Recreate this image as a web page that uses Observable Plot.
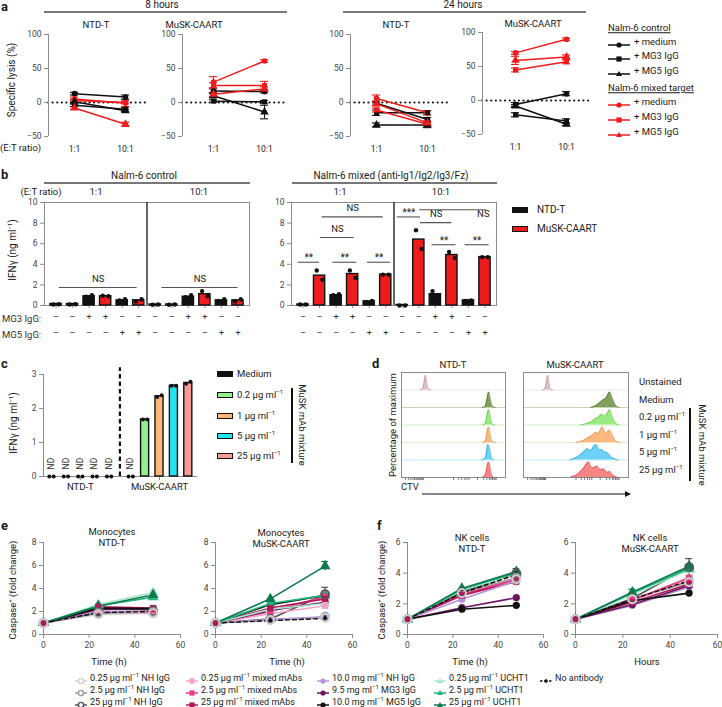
<!DOCTYPE html>
<html><head><meta charset="utf-8">
<script src="https://cdn.jsdelivr.net/npm/d3@7"></script>
<script src="https://cdn.jsdelivr.net/npm/@observablehq/plot@0.6"></script>
<style>
body{margin:0;background:#fff;}
#root{position:relative;width:722px;height:707px;overflow:hidden;font-family:Roboto,"Noto Sans",Arial,sans-serif;color:#1a1a1a;}
.t{position:absolute;white-space:nowrap;font-size:9.5px;line-height:1;}
.t sup{font-size:6px;vertical-align:4px;line-height:0;}
.lab{font-weight:bold;font-size:13px;}
</style></head><body><div id="root"></div>
<script>
// ================= DATA =================
// Panel a: specific lysis (%), values at [1:1, 10:1]; series order:
// control +medium, control +MG3, control +MG5, mixed +medium, mixed +MG3, mixed +MG5
const etRatios = ["1:1", "10:1"];
const lysisLabels = ["+ medium", "+ MG3 IgG", "+ MG5 IgG"];
const lysisSymbols = ["circle", "square", "triangle"];
const lysis8hNTD = [[13, 8], [-4, -10], [1, -12], [5, -1], [3, 0], [-8, -32]];
const lysis8hCAART = [[17, 16], [2, 1], [10, -14], [30, 61], [25, 25], [12, 20]];
const lysis24hNTD = [[-1, -25], [-15, -15], [-33, -33], [6, -15], [-11, -32], [-2, -30]];
const lysis24hCAART = [[-6, 10], [-21, -30], [-8, -35], [70, 90], [45, 57], [59, 64]];
const lysisErr8hNTD = [[2, 3], [2, 3], [3, 2], [3, 5], [2, 2], [2, 3]];
const lysisErr8hCAART = [[3, 2], [2, 2], [3, 10], [8, 2], [4, 6], [3, 3]];
const lysisErr24hNTD = [[3, 3], [4, 3], [3, 4], [5, 3], [3, 3], [3, 3]];
const lysisErr24hCAART = [[3, 3], [3, 3], [2, 2], [2, 2], [3, 3], [6, 3]];

// Panel b: IFNγ (ng/ml); bars alternate NTD-T, MuSK-CAART
const ifnCtrl = [0.15, 0.15, 0.9, 0.9, 0.5, 0.5, 0.1, 0.1, 0.85, 1.1, 0.5, 0.5];
const ifnCtrlDots = [[0.1, 0.12], [0.1, 0.12], [0.85, 1.0], [0.95, 0.9], [0.5, 0.6], [0.4, 0.6], [0.08, 0.1], [0.08, 0.1], [0.8, 1.0], [1.4, 0.9], [0.45, 0.6], [0.4, 0.6]];
const ifnMix = [0.1, 2.9, 1.0, 3.05, 0.4, 3.0, 0.05, 6.4, 1.1, 4.9, 0.5, 4.7];
const ifnMixDots = [[0.1, 0.1], [3.4, 2.5], [1.0, 1.1], [3.4, 2.7], [0.35, 0.45], [3.0, 3.0], [0.0, 0.0], [7.3, 5.5], [1.4, 0.85], [5.2, 4.6], [0.45, 0.5], [4.7, 4.7]];
const mg3Signs = ["–", "–", "+", "+", "–", "–", "–", "–", "+", "+", "–", "–"];
const mg5Signs = ["–", "–", "–", "–", "+", "+", "–", "–", "–", "–", "+", "+"];
const ctrlBrackets = [
  {x1: 0.2, x2: 4.9, y: 1.75, label: "NS"},
  {x1: 6.4, x2: 11.0, y: 1.75, label: "NS"}];
const mixBrackets = [
  {x1: -0.3, x2: 1.0, y: 4.2, label: "**"},
  {x1: 1.8, x2: 3.25, y: 4.2, label: "**"},
  {x1: 3.9, x2: 5.3, y: 4.2, label: "**"},
  {x1: 1.05, x2: 3.1, y: 6.6, label: "NS"},
  {x1: 1.15, x2: 4.85, y: 8.6, label: "NS"},
  {x1: 5.7, x2: 7.1, y: 8.6, label: "***"},
  {x1: 7.05, x2: 11.1, y: 9.3, label: ""},
  {x1: 7.1, x2: 9.0, y: 8.05, label: "NS"},
  {x1: 10.9, x2: 10.9, y: 8.05, label: "NS"},
  {x1: 7.8, x2: 9.25, y: 5.9, label: "**"},
  {x1: 9.8, x2: 11.25, y: 5.9, label: "**"}];

// Panel c: IFNγ with MuSK mAb mixture
const mabLabels = ["Medium", "0.2 μg ml<sup>−1</sup>", "1 μg ml<sup>−1</sup>", "5 μg ml<sup>−1</sup>", "25 μg ml<sup>−1</sup>"];
const mabColors = ["#111111", "#8ff08c", "#ffb874", "#22e4f0", "#f79a98"];
const effectorGroups = ["NTD-T", "MuSK-CAART"];
const ifnMabNTD = [null, null, null, null, null];          // ND
const ifnMabNTDDots = [[0, 0], [0, 0], [0, 0], [0, 0], [0, 0]];
const ifnMabCAART = [null, 1.68, 2.36, 2.67, 2.75];       // medium ND
const ifnMabCAARTDots = [[0, 0], [1.68, 1.68], [2.34, 2.39], [2.67, 2.67], [2.73, 2.79]];

// Panel d: CTV histograms, [CTV position, fraction of max]
const ctvRows = ["Unstained", "Medium", "0.2 μg ml<sup>−1</sup>", "1 μg ml<sup>−1</sup>", "5 μg ml<sup>−1</sup>", "25 μg ml<sup>−1</sup>"];
const ctvFill = ["#dcb3b8", "#6f8f42", "#8ae86c", "#f7ae6c", "#52c9f3", "#f47070"];
const ctvStroke = ["#b98a90", "#4e6b28", "#5ccc3c", "#ec8d3e", "#20aae0", "#e84848"];
const ctvTicks = [4, 7, 9, 11, 12.5, 14, 15, 16, 17, 18, 19, 20, 21, 50, 55, 58, 61, 63, 65, 73, 79, 82, 84.5, 86, 87.5, 89, 90, 91];
const ctvNTD = [
  [[18, 0], [20, 0.05], [21, 0.2], [22, 0.55], [23, 0.85], [24, 0.5], [25, 0.15], [26, 0.03], [28, 0]],
  [[78, 0], [80, 0.04], [81, 0.15], [82, 0.42], [83, 0.75], [84, 0.88], [85, 0.62], [86, 0.3], [87, 0.1], [88, 0.03], [90, 0]],
  [[78, 0], [80, 0.05], [81, 0.2], [82, 0.5], [83, 0.8], [84, 0.88], [85, 0.6], [86, 0.28], [87, 0.09], [88, 0.02], [90, 0]],
  [[78, 0], [80, 0.05], [81, 0.18], [82, 0.5], [83, 0.82], [84, 0.88], [85, 0.55], [86, 0.25], [87, 0.08], [88, 0.02], [90, 0]],
  [[77, 0], [79, 0.04], [81, 0.2], [82, 0.55], [83, 0.88], [84, 0.8], [85, 0.55], [86, 0.25], [87, 0.08], [89, 0]],
  [[77, 0], [79, 0.05], [81, 0.22], [82, 0.55], [83, 0.82], [84, 0.88], [85, 0.6], [86, 0.3], [87, 0.1], [89, 0]]];
const ctvCAART = [
  [[18, 0], [20, 0.05], [21, 0.2], [22, 0.55], [23, 0.85], [24, 0.5], [25, 0.15], [26, 0.03], [28, 0]],
  [[64, 0], [68, 0.08], [71, 0.2], [74, 0.35], [76, 0.45], [78, 0.5], [80, 0.7], [82, 0.88], [84, 0.6], [86, 0.3], [88, 0.1], [91, 0]],
  [[54, 0], [58, 0.05], [62, 0.12], [66, 0.25], [69, 0.4], [71, 0.42], [74, 0.62], [76, 0.55], [78, 0.5], [80, 0.7], [82, 0.88], [84, 0.55], [86, 0.25], [88, 0.08], [91, 0]],
  [[50, 0], [54, 0.05], [58, 0.15], [62, 0.3], [65, 0.4], [67, 0.5], [69, 0.58], [71, 0.5], [73, 0.7], [75, 0.88], [77, 0.65], [79, 0.55], [81, 0.7], [83, 0.65], [85, 0.35], [87, 0.15], [90, 0.03], [92, 0]],
  [[44, 0], [48, 0.08], [52, 0.2], [55, 0.35], [58, 0.5], [61, 0.65], [63, 0.55], [65, 0.6], [67, 0.8], [69, 0.88], [71, 0.7], [73, 0.55], [75, 0.6], [77, 0.45], [79, 0.45], [81, 0.35], [83, 0.2], [86, 0.08], [90, 0]],
  [[44, 0], [48, 0.08], [52, 0.22], [55, 0.4], [58, 0.6], [60, 0.8], [62, 0.88], [64, 0.65], [66, 0.55], [68, 0.6], [70, 0.65], [72, 0.5], [74, 0.45], [76, 0.5], [78, 0.4], [80, 0.3], [82, 0.35], [84, 0.2], [86, 0.1], [88, 0.04], [91, 0]]];

// Panels e, f: caspase+ fold change at 0, 24, 48 h
const hours = [0, 24, 48];
const caspaseSeries = [
  "0.25 μg ml<sup>−1</sup> NH IgG", "2.5 μg ml<sup>−1</sup> NH IgG", "25 μg ml<sup>−1</sup> NH IgG",
  "0.25 μg ml<sup>−1</sup> mixed mAbs", "2.5 μg ml<sup>−1</sup> mixed mAbs", "25 μg ml<sup>−1</sup> mixed mAbs",
  "10.0 mg ml<sup>−1</sup> NH IgG", "9.5 mg ml<sup>−1</sup> MG3 IgG", "10.0 mg ml<sup>−1</sup> MG5 IgG",
  "0.25 μg ml<sup>−1</sup> UCHT1", "2.5 μg ml<sup>−1</sup> UCHT1", "25 μg ml<sup>−1</sup> UCHT1",
  "No antibody"];
const caspaseColors = ["#cfcfcf", "#9a9a9a", "#555555", "#f7a1c4", "#ee3a8a", "#b3175a", "#b792d8", "#6b1560", "#111111", "#a6e8cc", "#1fb87a", "#0c7a4f", "#111111"];
const caspaseSymbols = ["circleOpen", "circleOpen", "circleOpen", "square", "square", "square", "circle", "circle", "circle", "triangle", "triangle", "triangle", "diamond"];
const monoNTD = [[1, 1.75, 1.85], [1, 1.85, 1.95], [1, 1.95, 2.05], [1, 2.1, 1.8], [1, 2.3, 2.15], [1, 2.4, 2.3], [1, 2.0, 2.0], [1, 2.2, 2.2], [1, 2.3, 2.25], [1, 2.6, 3.65], [1, 2.5, 3.25], [1, 2.45, 3.45], [1, 1.9, 2.0]];
const monoCAART = [[1, 1.25, 1.45], [1, 1.3, 1.55], [1, 1.35, 3.5], [1, 1.8, 2.5], [1, 2.0, 3.3], [1, 2.3, 3.1], [1, 1.3, 1.5], [1, 2.1, 2.8], [1, 2.6, 3.4], [1, 2.2, 2.7], [1, 2.7, 3.4], [1, 3.1, 5.95], [1, 1.2, 1.4]];
const nkNTD = [[1, 2.7, 3.6], [1, 2.7, 3.7], [1, 2.75, 4.0], [1, 2.6, 3.5], [1, 2.6, 3.6], [1, 2.55, 3.45], [1, 2.3, 3.5], [1, 1.75, 2.4], [1, 1.65, 1.9], [1, 2.9, 3.9], [1, 2.95, 4.05], [1, 3.0, 4.1], [1, 2.7, 3.9]];
const nkCAART = [[1, 2.3, 3.4], [1, 2.3, 3.45], [1, 2.35, 4.4], [1, 2.2, 3.6], [1, 2.25, 3.7], [1, 2.1, 3.3], [1, 1.9, 3.1], [1, 1.95, 3.2], [1, 2.2, 2.7], [1, 2.6, 4.2], [1, 2.7, 4.3], [1, 2.75, 4.45], [1, 2.3, 3.5]];
// [series, time index, sd]
const monoNTDErr = [[9, 2, 0.2], [2, 1, 0.15], [2, 2, 0.15]];
const monoCAARTErr = [[11, 2, 0.4], [2, 2, 0.6], [2, 1, 0.15]];
const nkNTDErr = [[0, 1, 0.35], [0, 2, 0.5], [2, 2, 0.3]];
const nkCAARTErr = [[2, 2, 0.55], [0, 2, 0.3], [11, 1, 0.2]];

// ================= HELPERS =================
const root = document.getElementById("root");
const FONT = 'Roboto, "Noto Sans", Arial, sans-serif';
const AXIS = "#8c8c8c", TICKTXT = "#444", RED = "#ee1c1c", BLACK = "#111111";
const intFmt = (d) => String(d).replace("-", "−");

function txt(s, x, y, o = {}) {
  const d = document.createElement("div");
  d.className = "t" + (o.cls ? " " + o.cls : "");
  d.innerHTML = s;
  const ax = o.anchor === "start" ? "0%" : o.anchor === "end" ? "-100%" : "-50%";
  d.style.left = x + "px"; d.style.top = y + "px";
  d.style.transform = `translate(${ax},-50%)` + (o.rotate ? ` rotate(${o.rotate}deg)` : "");
  if (o.size) d.style.fontSize = o.size + "px";
  if (o.color) d.style.color = o.color;
  if (o.underline) d.style.textDecoration = "underline";
  root.appendChild(d);
  return d;
}
function hline(x1, x2, y, color = "#777", w = 1.3) {
  const d = document.createElement("div");
  Object.assign(d.style, {position: "absolute", left: x1 + "px", top: (y - w / 2) + "px", width: (x2 - x1) + "px", height: w + "px", background: color});
  root.appendChild(d);
}
function vline(x, y1, y2, color = "#111", w = 1.3) {
  const d = document.createElement("div");
  Object.assign(d.style, {position: "absolute", left: (x - w / 2) + "px", top: y1 + "px", width: w + "px", height: (y2 - y1) + "px", background: color});
  root.appendChild(d);
}
function place(node, left, top) {
  node.style.position = "absolute"; node.style.left = left + "px"; node.style.top = top + "px";
  root.appendChild(node); return node;
}
function framed(f, m, opts) {
  const [ml, mt, mr, mb] = m;
  const svg = Plot.plot({
    width: f.R - f.L + ml + mr, height: f.B - f.T + mt + mb,
    marginLeft: ml, marginTop: mt, marginRight: mr, marginBottom: mb,
    style: {fontFamily: FONT, fontSize: "8.5px", background: "transparent", overflow: "visible", color: "#222"},
    ...opts
  });
  return place(svg, f.L - ml, f.T - mt);
}
function symSvg(sym, cx, cy, r, color) {
  if (sym === "circle") return `<circle cx="${cx}" cy="${cy}" r="${r}" fill="${color}"/>`;
  if (sym === "circleOpen") return `<circle cx="${cx}" cy="${cy}" r="${r}" fill="white" stroke="${color}" stroke-width="1.4"/>`;
  if (sym === "square") return `<rect x="${cx - r}" y="${cy - r}" width="${2 * r}" height="${2 * r}" fill="${color}"/>`;
  if (sym === "triangle") return `<path d="M${cx},${cy - r * 1.2}L${cx + r * 1.15},${cy + r * 0.8}L${cx - r * 1.15},${cy + r * 0.8}Z" fill="${color}"/>`;
  return `<path d="M${cx},${cy - r}L${cx + r},${cy}L${cx},${cy + r}L${cx - r},${cy}Z" fill="${color}"/>`;
}
function legendMarker(x, y, w, color, sym, r, dash) {
  const d = document.createElement("div");
  d.innerHTML = `<svg width="${w}" height="12" style="overflow:visible"><line x1="0" y1="6" x2="${w}" y2="6" stroke="${color}" stroke-width="1.5" ${dash ? 'stroke-dasharray="2.5 2"' : ""}/>${symSvg(sym, w / 2, 6, r, color)}</svg>`;
  place(d, x, y - 6);
}
function legendRect(x, y, w, h, fill) {
  const d = document.createElement("div");
  Object.assign(d.style, {width: (w - 3) + "px", height: (h - 3) + "px", background: fill, border: "1.5px solid #111"});
  place(d, x, y - h / 2);
}

// ================= PANEL a =================
function lysisPanel(vals, errs, L, R, T, B, p11, p101) {
  const k = p101 - p11, x0 = (L - p11) / k, x1 = (R - p11) / k;
  const rows = [];
  vals.forEach((v, s) => v.forEach((y, j) => rows.push({s, j, y, e: errs[s][j], c: s < 3 ? BLACK : RED})));
  const cw = 0.08;
  framed({L, R, T, B}, [30, 4, 4, 22], {
    x: {domain: [x0, x1], axis: null},
    y: {domain: [-50, 100], axis: null},
    marks: [
      Plot.ruleY([0], {stroke: "#111", strokeWidth: 2.2, strokeDasharray: "0.01 4.6", strokeLinecap: "round"}),
      Plot.ruleX([x0], {y1: -50, y2: 100, stroke: AXIS}),
      Plot.axisY({ticks: [-50, 0, 50, 100], tickFormat: intFmt, tickSize: 4, tickPadding: 3, stroke: AXIS, fill: TICKTXT, label: null}),
      Plot.axisX({ticks: [0, 1], tickFormat: (d) => etRatios[d], tickSize: 0, tickPadding: 9, fill: "#222", label: null}),
      Plot.ruleX(rows, {x: "j", y1: (d) => d.y - d.e, y2: (d) => d.y + d.e, stroke: "c", strokeWidth: 1.1}),
      Plot.ruleY(rows, {x1: (d) => d.j - cw, x2: (d) => d.j + cw, y: (d) => d.y + d.e, stroke: "c", strokeWidth: 1.1}),
      Plot.ruleY(rows, {x1: (d) => d.j - cw, x2: (d) => d.j + cw, y: (d) => d.y - d.e, stroke: "c", strokeWidth: 1.1}),
      Plot.line(rows, {x: "j", y: "y", z: "s", stroke: "c", strokeWidth: 1.5}),
      ...lysisSymbols.map((sym, m) => Plot.dot(rows.filter((d) => d.s % 3 === m), {x: "j", y: "y", symbol: sym, fill: "c", r: sym === "triangle" ? 3.2 : 2.8}))
    ]
  });
}
txt("a", 1, 6, {cls: "lab", anchor: "start"});
txt("8 hours", 162, 5, {size: 10});
hline(44, 287, 12, "#777", 1.4);
txt("24 hours", 463, 5, {size: 10});
hline(343, 586, 12, "#777", 1.4);
txt("NTD-T", 96, 25); txt("MuSK-CAART", 194, 25); txt("NTD-T", 396, 25); txt("MuSK-CAART", 533, 24);
txt("Specific lysis (%)", 12, 80, {rotate: -90, size: 10});
txt("(E:T ratio)", 0, 148, {anchor: "start"});
lysisPanel(lysis8hNTD, lysisErr8hNTD, 48, 147, 34, 136, 74, 125);
lysisPanel(lysis8hCAART, lysisErr8hCAART, 182, 287, 34, 136, 213, 264);
lysisPanel(lysis24hNTD, lysisErr24hNTD, 350, 450, 34, 136, 376, 427);
lysisPanel(lysis24hCAART, lysisErr24hCAART, 482, 590, 32, 134, 515, 566);
// legend a
txt("Nalm-6 control", 608, 28, {anchor: "start", underline: true});
txt("Nalm-6 mixed target", 608, 88, {anchor: "start", underline: true});
[42, 56, 71].forEach((y, m) => { legendMarker(608, y, 22, BLACK, lysisSymbols[m], 2.6); txt(lysisLabels[m], 634, y, {anchor: "start"}); });
[102, 117, 132].forEach((y, m) => { legendMarker(608, y, 22, RED, lysisSymbols[m], 2.6); txt(lysisLabels[m], 634, y, {anchor: "start"}); });

// ================= PANEL b =================
function ifnPanel(vals, dots, brackets, L) {
  const R = L + 205, T = 202, B = 305, step = 16.5, off = 11.5;
  const x0 = -off / step, x1 = 11 + off / step;
  const bars = vals.map((v, i) => ({i, v, c: i % 2 ? RED : BLACK}));
  const pts = [];
  dots.forEach((p, i) => p.forEach((v, k) => pts.push({i, v, k})));
  const lines = brackets.filter((b) => b.x2 > b.x1);
  framed({L, R, T, B}, [30, 4, 4, 40], {
    x: {domain: [x0, x1], axis: null},
    y: {domain: [0, 10], axis: null},
    marks: [
      Plot.frame({stroke: AXIS}),
      Plot.axisY({ticks: [0, 2, 4, 6, 8, 10], tickFormat: intFmt, tickSize: 4, tickPadding: 3, stroke: AXIS, fill: TICKTXT, label: null}),
      Plot.axisX({ticks: d3.range(12), tickSize: 3, tickFormat: () => "", stroke: AXIS, label: null}),
      Plot.ruleX([5.5], {stroke: "#111", strokeWidth: 1.3}),
      Plot.rectY(bars, {x1: (d) => d.i - 0.34, x2: (d) => d.i + 0.34, y: "v", fill: "c", stroke: "#111", strokeWidth: 1.4}),
      Plot.dot(pts, {x: (d) => d.i + (d.k ? 0.17 : -0.17), y: "v", r: 2.2, fill: "#111"}),
      Plot.ruleY(lines, {x1: "x1", x2: "x2", y: "y", stroke: "#555", strokeWidth: 1.1}),
      Plot.text(brackets.filter((b) => b.label === "NS"), {x: (d) => (d.x1 + d.x2) / 2, y: "y", text: "label", dy: -9, fontSize: 9.5, fill: "#222"}),
      Plot.text(brackets.filter((b) => b.label.startsWith("*")), {x: (d) => (d.x1 + d.x2) / 2, y: "y", text: "label", dy: -4, fontSize: 10, fill: "#222"}),
      Plot.text(mg3Signs, {x: (d, i) => i, frameAnchor: "bottom", dy: 14, text: (d) => d, fontSize: 9, fill: "#333"}),
      Plot.text(mg5Signs, {x: (d, i) => i, frameAnchor: "bottom", dy: 30, text: (d) => d, fontSize: 9, fill: "#333"})
    ]
  });
}
txt("b", 1, 174, {cls: "lab", anchor: "start"});
txt("Nalm-6 control", 144, 176, {size: 10});
hline(44, 250, 183, "#777", 1.4);
txt("Nalm-6 mixed (anti-Ig1/Ig2/Ig3/Fz)", 391, 176, {size: 10});
hline(292, 497, 183, "#777", 1.4);
txt("(E:T ratio)", 41, 192); txt("1:1", 96, 192); txt("10:1", 199, 192);
txt("1:1", 340, 192); txt("10:1", 441, 192);
txt("IFNγ (ng ml<sup>−1</sup>)", 13, 250, {rotate: -90, size: 10});
txt("MG3 IgG:", 2, 319, {anchor: "start", color: "#333"});
txt("MG5 IgG:", 2, 335, {anchor: "start", color: "#333"});
ifnPanel(ifnCtrl, ifnCtrlDots, ctrlBrackets, 44);
ifnPanel(ifnMix, ifnMixDots, mixBrackets, 291);
legendRect(512, 210, 17, 7, BLACK); txt("NTD-T", 537, 210, {anchor: "start", size: 10});
legendRect(512, 229, 17, 7, RED); txt("MuSK-CAART", 537, 229, {anchor: "start", size: 10});

// ================= PANEL c =================
(function () {
  const L = 43, R = 197, T = 374, B = 476, u0 = 51, du = 14.4;
  const x0 = (L - u0) / du, x1 = (R - u0) / du;
  const bars = [], pts = [], nd = [];
  ifnMabNTD.forEach((v, k) => { if (v === null) nd.push({u: k}); });
  ifnMabCAART.forEach((v, k) => { if (v === null) nd.push({u: 5.5 + k}); else bars.push({u: 5.5 + k, v, c: mabColors[k]}); });
  ifnMabNTDDots.forEach((p, k) => p.forEach((v, j) => pts.push({u: k + (j ? 0.15 : -0.15), v})));
  ifnMabCAARTDots.forEach((p, k) => p.forEach((v, j) => pts.push({u: 5.5 + k + (j ? 0.15 : -0.15), v})));
  framed({L, R, T, B}, [30, 10, 4, 22], {
    x: {domain: [x0, x1], axis: null},
    y: {domain: [0, 3], axis: null},
    marks: [
      Plot.ruleX([x0], {y1: 0, y2: 3, stroke: AXIS}),
      Plot.ruleY([0], {stroke: AXIS}),
      Plot.axisY({ticks: [0, 1, 2, 3], tickFormat: intFmt, tickSize: 4, tickPadding: 3, stroke: AXIS, fill: TICKTXT, label: null}),
      Plot.axisX({ticks: [2, 7.5], tickFormat: (d) => effectorGroups[d < 5 ? 0 : 1], tickSize: 4, tickPadding: 3, stroke: AXIS, fill: "#222", fontSize: 9.5, label: null}),
      Plot.ruleX([4.75], {y1: 0, y2: 3.2, stroke: "#111", strokeWidth: 2.2, strokeDasharray: "4.5 3"}),
      Plot.rectY(bars, {x1: (d) => d.u - 0.28, x2: (d) => d.u + 0.28, y: "v", fill: "c", stroke: "#111", strokeWidth: 1.4}),
      Plot.dot(pts, {x: "u", y: "v", r: 2, fill: "#111"}),
      Plot.text(nd, {x: "u", y: 0.38, text: () => "ND", rotate: -90, fontSize: 8.5, fill: "#222"})
    ]
  });
})();
txt("c", 1, 363, {cls: "lab", anchor: "start"});
txt("IFNγ (ng ml<sup>−1</sup>)", 14, 423, {rotate: -90, size: 10});
[374, 395, 416, 436, 456].forEach((y, k) => { legendRect(217, y, 17, 7, mabColors[k]); txt(mabLabels[k], 237, y, {anchor: "start", size: 9.5}); });
vline(292, 388, 463, "#111", 1.4);
txt("MuSK mAb mixture", 302, 425, {rotate: 90, size: 9.5});

// ================= PANEL d =================
function ctvPanel(curves, L, R) {
  const rows = [];
  curves.forEach((pts, k) => pts.forEach(([x, h]) => rows.push({k, x, y1: 5 - k, y2: 5 - k + h})));
  framed({L, R, T: 372, B: 477}, [4, 4, 4, 8], {
    x: {domain: [0, 100], axis: null},
    y: {domain: [0, 6], axis: null},
    marks: [
      Plot.ruleY(d3.range(6), {y: (k) => 5 - k, stroke: (k) => ctvFill[k], strokeOpacity: 0.4}),
      Plot.areaY(rows, {x: "x", y1: "y1", y2: "y2", z: "k", fill: (d) => ctvFill[d.k], fillOpacity: 0.85, curve: "monotone-x"}),
      Plot.line(rows, {x: "x", y: "y2", z: "k", stroke: (d) => ctvStroke[d.k], strokeWidth: 0.7, curve: "monotone-x"}),
      Plot.frame({stroke: AXIS}),
      Plot.axisX({ticks: ctvTicks, tickSize: 3, tickFormat: () => "", stroke: "#777", label: null})
    ]
  });
}
txt("d", 372, 363, {cls: "lab", anchor: "start"});
txt("NTD-T", 453, 365); txt("MuSK-CAART", 575, 365);
ctvPanel(ctvNTD, 401, 505);
ctvPanel(ctvCAART, 523, 628);
[382, 400, 417, 435, 452, 470].forEach((y, k) => txt(ctvRows[k], 639, y, {anchor: "start", size: 9.5}));
vline(690, 408, 481, "#111", 1.4);
txt("MuSK mAb mixture", 702, 445, {rotate: 90, size: 9.5});
txt("Percentage of maximum", 393, 425, {rotate: -90, size: 9.5});
txt("CTV", 401, 487, {anchor: "start", size: 9.5});
(function () {
  const d = document.createElement("div");
  d.innerHTML = `<svg width="210" height="8"><line x1="0" y1="4" x2="203" y2="4" stroke="#111" stroke-width="1.2"/><path d="M203,1L209,4L203,7Z" fill="#111"/></svg>`;
  place(d, 422, 483);
})();

// ================= PANELS e, f =================
function caspasePanel(vals, errs, L, R, ymax, yticks) {
  const T = 542, B = 634;
  const rows = [];
  vals.forEach((v, s) => v.forEach((y, j) => rows.push({s, t: hours[j], y, c: caspaseColors[s]})));
  const er = errs.map(([s, j, e]) => ({t: hours[j], y: vals[s][j], e, c: caspaseColors[s]}));
  const of = (sym) => rows.filter((d) => caspaseSymbols[d.s] === sym);
  framed({L, R, T, B}, [30, 6, 10, 16], {
    x: {domain: [0, 60], axis: null},
    y: {domain: [0, ymax], axis: null},
    marks: [
      Plot.ruleX([0], {stroke: AXIS}),
      Plot.ruleY([0], {stroke: AXIS}),
      Plot.axisY({ticks: yticks, tickFormat: intFmt, tickSize: 4, tickPadding: 3, stroke: AXIS, fill: TICKTXT, label: null}),
      Plot.axisX({ticks: [0, 20, 40, 60], tickFormat: intFmt, tickSize: 4, tickPadding: 3, stroke: AXIS, fill: TICKTXT, label: null}),
      Plot.ruleX(er, {x: "t", y1: (d) => d.y - d.e, y2: (d) => d.y + d.e, stroke: "c", strokeWidth: 1.2}),
      Plot.ruleY(er, {x1: (d) => d.t - 1.5, x2: (d) => d.t + 1.5, y: (d) => d.y + d.e, stroke: "c", strokeWidth: 1.2}),
      Plot.line(rows.filter((d) => d.s < 12), {x: "t", y: "y", z: "s", stroke: "c", strokeWidth: 1.6}),
      Plot.line(rows.filter((d) => d.s === 12), {x: "t", y: "y", stroke: "#111", strokeWidth: 1.4, strokeDasharray: "4 3"}),
      Plot.dot(of("circle"), {x: "t", y: "y", r: 3.6, fill: "c"}),
      Plot.dot(of("triangle"), {x: "t", y: "y", r: 4, symbol: "triangle", fill: "c"}),
      Plot.dot(of("diamond"), {x: "t", y: "y", r: 2.4, symbol: "diamond", fill: "#111"}),
      Plot.dot(of("square"), {x: "t", y: "y", r: 3.6, symbol: "square", fill: "c"}),
      Plot.dot(of("circleOpen").reverse(), {x: "t", y: "y", r: 4, fill: "none", stroke: "c", strokeWidth: 1.8})
    ]
  });
}
txt("e", 1, 525, {cls: "lab", anchor: "start"});
txt("f", 377, 525, {cls: "lab", anchor: "start"});
caspasePanel(monoNTD, monoNTDErr, 43, 180, 8, [0, 2, 4, 6, 8]);
caspasePanel(monoCAART, monoCAARTErr, 215, 352, 8, [0, 2, 4, 6, 8]);
caspasePanel(nkNTD, nkNTDErr, 407, 543, 6, [0, 2, 4, 6]);
caspasePanel(nkCAART, nkCAARTErr, 575, 717, 6, [0, 2, 4, 6]);
txt("Monocytes", 112, 532); txt("NTD-T", 112, 543);
txt("Monocytes", 281, 533); txt("MuSK-CAART", 281, 544);
txt("NK cells", 472, 538); txt("NTD-T", 472, 549);
txt("NK cells", 650, 538); txt("MuSK-CAART", 650, 549);
txt("Caspase<sup>+</sup> (fold change)", 13, 590, {rotate: -90, size: 9.5});
txt("Caspase<sup>+</sup> (fold change)", 382, 590, {rotate: -90, size: 9.5});
txt("Time (h)", 109, 662); txt("Time (h)", 287, 662); txt("Time (h)", 470, 662); txt("Hours", 647, 662);
// legend e/f
const legCols = [90, 201, 332, 449, 555], legRows = [678, 690, 702];
caspaseSeries.forEach((lab, s) => {
  const col = Math.floor(s / 3), row = s % 3;
  const x = legCols[col], y = legRows[row];
  const sym = caspaseSymbols[s];
  legendMarker(x - 15, y, 12, caspaseColors[s], sym, sym === "diamond" ? 2.2 : 2.6, s === 12);
  txt(lab, x, y, {anchor: "start", size: 9});
});
</script></body></html>
